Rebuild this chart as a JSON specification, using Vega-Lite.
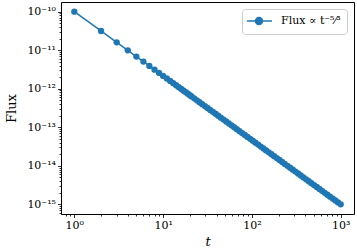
{
  "$schema": "https://vega.github.io/schema/vega-lite/v6.json",
  "width": 293,
  "height": 212,
  "autosize": {"type": "none"},
  "padding": {"left": 61, "top": 2, "right": 3, "bottom": 36},
  "background": "white",
  "config": {
    "view": {"stroke": "black", "strokeWidth": 1},
    "font": "DejaVu Serif",
    "axis": {
      "domain": false,
      "grid": false,
      "tickColor": "black",
      "tickWidth": 0.8,
      "labelColor": "black",
      "labelFont": "DejaVu Serif",
      "labelFontSize": 11,
      "labelOverlap": false,
      "labelFlush": false,
      "titleColor": "black",
      "titleFont": "DejaVu Serif",
      "titleFontWeight": "normal",
      "titleFontSize": 13
    }
  },
  "data": {
    "values": [
      {"t": 1, "flux": 1e-10},
      {"t": 2, "flux": 3.150e-11},
      {"t": 3, "flux": 1.602e-11},
      {"t": 4, "flux": 9.921e-12},
      {"t": 5, "flux": 6.840e-12},
      {"t": 6, "flux": 5.048e-12},
      {"t": 7, "flux": 3.904e-12},
      {"t": 8, "flux": 3.125e-12},
      {"t": 9, "flux": 2.568e-12},
      {"t": 10, "flux": 2.154e-12},
      {"t": 11, "flux": 1.838e-12},
      {"t": 12, "flux": 1.590e-12},
      {"t": 13, "flux": 1.391e-12},
      {"t": 14, "flux": 1.230e-12},
      {"t": 15, "flux": 1.096e-12},
      {"t": 16, "flux": 9.843e-13},
      {"t": 17, "flux": 8.895e-13},
      {"t": 18, "flux": 8.091e-13},
      {"t": 19, "flux": 7.393e-13},
      {"t": 20, "flux": 6.786e-13},
      {"t": 20.89, "flux": 6.310e-13},
      {"t": 22.39, "flux": 5.623e-13},
      {"t": 23.99, "flux": 5.012e-13},
      {"t": 25.70, "flux": 4.467e-13},
      {"t": 27.54, "flux": 3.981e-13},
      {"t": 29.51, "flux": 3.548e-13},
      {"t": 31.62, "flux": 3.162e-13},
      {"t": 33.88, "flux": 2.818e-13},
      {"t": 36.31, "flux": 2.512e-13},
      {"t": 38.90, "flux": 2.239e-13},
      {"t": 41.69, "flux": 1.995e-13},
      {"t": 44.67, "flux": 1.778e-13},
      {"t": 47.86, "flux": 1.585e-13},
      {"t": 51.29, "flux": 1.413e-13},
      {"t": 54.95, "flux": 1.259e-13},
      {"t": 58.88, "flux": 1.122e-13},
      {"t": 63.10, "flux": 1.000e-13},
      {"t": 67.61, "flux": 8.913e-14},
      {"t": 72.44, "flux": 7.943e-14},
      {"t": 77.62, "flux": 7.079e-14},
      {"t": 83.18, "flux": 6.310e-14},
      {"t": 89.13, "flux": 5.623e-14},
      {"t": 95.50, "flux": 5.012e-14},
      {"t": 102.3, "flux": 4.467e-14},
      {"t": 109.6, "flux": 3.981e-14},
      {"t": 117.5, "flux": 3.548e-14},
      {"t": 125.9, "flux": 3.162e-14},
      {"t": 134.9, "flux": 2.818e-14},
      {"t": 144.5, "flux": 2.512e-14},
      {"t": 154.9, "flux": 2.239e-14},
      {"t": 166.0, "flux": 1.995e-14},
      {"t": 177.8, "flux": 1.778e-14},
      {"t": 190.5, "flux": 1.585e-14},
      {"t": 204.2, "flux": 1.413e-14},
      {"t": 218.8, "flux": 1.259e-14},
      {"t": 234.4, "flux": 1.122e-14},
      {"t": 251.2, "flux": 1.000e-14},
      {"t": 269.2, "flux": 8.913e-15},
      {"t": 288.4, "flux": 7.943e-15},
      {"t": 309.0, "flux": 7.079e-15},
      {"t": 331.1, "flux": 6.310e-15},
      {"t": 354.8, "flux": 5.623e-15},
      {"t": 380.2, "flux": 5.012e-15},
      {"t": 407.4, "flux": 4.467e-15},
      {"t": 436.5, "flux": 3.981e-15},
      {"t": 467.7, "flux": 3.548e-15},
      {"t": 501.2, "flux": 3.162e-15},
      {"t": 537.0, "flux": 2.818e-15},
      {"t": 575.4, "flux": 2.512e-15},
      {"t": 616.6, "flux": 2.239e-15},
      {"t": 660.7, "flux": 1.995e-15},
      {"t": 707.9, "flux": 1.778e-15},
      {"t": 758.6, "flux": 1.585e-15},
      {"t": 812.8, "flux": 1.413e-15},
      {"t": 871.0, "flux": 1.259e-15},
      {"t": 933.3, "flux": 1.122e-15},
      {"t": 1000, "flux": 1.000e-15}
    ]
  },
  "encoding": {
    "x": {
      "field": "t",
      "type": "quantitative",
      "scale": {"type": "log", "domain": [0.7079, 1412.5], "nice": false},
      "axis": {
        "title": "t",
        "titleFontStyle": "italic",
        "titleFontSize": 13,
        "titlePadding": 5,
        "values": [0.8, 0.9, 1, 2, 3, 4, 5, 6, 7, 8, 9, 10, 20, 30, 40, 50, 60, 70, 80, 90, 100, 200, 300, 400, 500, 600, 700, 800, 900, 1000],
        "labelExpr": "datum.value == 1 ? '10⁰' : datum.value == 10 ? '10¹' : datum.value == 100 ? '10²' : datum.value == 1000 ? '10³' : ''",
        "tickSize": {"condition": {"test": "indexof([1, 10, 100, 1000], datum.value) >= 0", "value": 3.5}, "value": 2},
        "labelPadding": 2
      }
    },
    "y": {
      "field": "flux",
      "type": "quantitative",
      "scale": {"type": "log", "domain": [5.623e-16, 1.778e-10], "nice": false},
      "axis": {
        "title": "Flux",
        "titlePadding": 8,
        "values": [6e-16, 7e-16, 8e-16, 9e-16, 1e-15, 2e-15, 3e-15, 4e-15, 5e-15, 6e-15, 7e-15, 8e-15, 9e-15, 1e-14, 2e-14, 3e-14, 4e-14, 5e-14, 6e-14, 7e-14, 8e-14, 9e-14, 1e-13, 2e-13, 3e-13, 4e-13, 5e-13, 6e-13, 7e-13, 8e-13, 9e-13, 1e-12, 2e-12, 3e-12, 4e-12, 5e-12, 6e-12, 7e-12, 8e-12, 9e-12, 1e-11, 2e-11, 3e-11, 4e-11, 5e-11, 6e-11, 7e-11, 8e-11, 9e-11, 1e-10],
        "labelExpr": "datum.value == 1e-10 ? '10⁻¹⁰' : datum.value == 1e-11 ? '10⁻¹¹' : datum.value == 1e-12 ? '10⁻¹²' : datum.value == 1e-13 ? '10⁻¹³' : datum.value == 1e-14 ? '10⁻¹⁴' : datum.value == 1e-15 ? '10⁻¹⁵' : ''",
        "tickSize": {"condition": {"test": "indexof([1e-10, 1e-11, 1e-12, 1e-13, 1e-14, 1e-15], datum.value) >= 0", "value": 3.5}, "value": 2},
        "labelPadding": 2
      }
    },
    "color": {
      "datum": "Flux ∝ t⁻⁵⁄³",
      "type": "nominal",
      "scale": {"range": ["#1f77b4"]},
      "legend": {
        "title": null,
        "orient": "top-right",
        "offset": 7,
        "padding": 6,
        "fillColor": "white",
        "strokeColor": "#cccccc",
        "cornerRadius": 3,
        "labelFont": "DejaVu Serif",
        "labelFontSize": 11,
        "labelColor": "black",
        "labelOffset": 21,
        "symbolSize": 100,
        "symbolType": "M-1.4,0H3.6M1.7,0A0.7,0.7,0,1,1,0.3,0A0.7,0.7,0,1,1,1.7,0",
        "symbolFillColor": "#1f77b4",
        "symbolStrokeColor": "#1f77b4",
        "symbolStrokeWidth": 1.5,
        "encode": {
          "symbols": {
            "update": {
              "fill": {"value": "#1f77b4"},
              "stroke": {"value": "#1f77b4"},
              "strokeWidth": {"value": 1.5},
              "opacity": {"value": 1}
            }
          }
        }
      }
    }
  },
  "layer": [
    {"mark": {"type": "line", "strokeWidth": 1.5, "color": "#1f77b4"}},
    {"mark": {"type": "point", "filled": true, "size": 40, "opacity": 1, "color": "#1f77b4"}}
  ]
}
